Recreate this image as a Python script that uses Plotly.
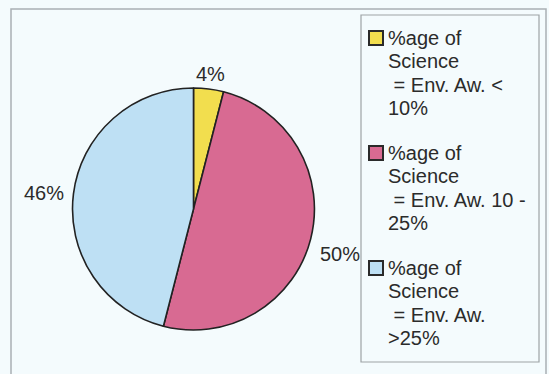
import math
import plotly.graph_objects as go

# Share of science pupils by environmental-awareness band
categories = [
    "%age of<br>Science<br>\u00a0= Env. Aw. <<br>10%",
    "%age of<br>Science<br>\u00a0= Env. Aw. 10 -<br>25%",
    "%age of<br>Science<br>\u00a0= Env. Aw.<br>>25%",
]
values = [4, 50, 46]
colors = ["#F2DE4E", "#D86A92", "#BEE0F4"]

W, H = 549, 374
BG = "#F4FBFD"
TXT = "#2B2B2B"
FONT = "Liberation Sans, Arial, sans-serif"
FS = 20

# pie placement (pixels)
cx, cy, r = 193.5, 209, 121

fig = go.Figure(go.Pie(
    labels=categories,
    values=values,
    sort=False,
    direction="clockwise",
    rotation=0,
    marker=dict(colors=colors, line=dict(color="#222222", width=1.6)),
    textinfo="none",
    hoverinfo="label+percent",
    showlegend=False,
    domain=dict(x=[(cx - r) / W, (cx + r) / W], y=[1 - (cy + r) / H, 1 - (cy - r) / H]),
))

# percentage labels just outside each slice, at the slice mid-angle
total = sum(values)
cum = 0
annotations = []
for v in values:
    mid = (cum + v / 2) / total * 2 * math.pi
    cum += v
    dx, dy = math.sin(mid), math.cos(mid)
    if abs(dx) < 0.3:
        xa, rr = "center", r + 15
    elif dx > 0:
        xa, rr = "left", r + 8
    else:
        xa, rr = "right", r + 8
    ya = "top" if dy < -0.2 else "middle"
    px, py = cx + rr * dx, cy - rr * dy
    annotations.append(dict(
        x=px / W, y=1 - py / H, xref="paper", yref="paper",
        text=f"{v}%", showarrow=False, xanchor=xa, yanchor=ya,
        font=dict(size=FS, color=TXT, family=FONT),
    ))

shapes = [
    # outer chart frame
    dict(type="rect", xref="paper", yref="paper",
         x0=11 / W, x1=546 / W, y0=-0.05, y1=1 - 9 / H,
         line=dict(color="#A9B0B4", width=1.5), fillcolor="rgba(0,0,0,0)", layer="below"),
    # legend box
    dict(type="rect", xref="paper", yref="paper",
         x0=361 / W, x1=539 / W, y0=1 - 362 / H, y1=1 - 15 / H,
         line=dict(color="#9DA3A6", width=1.2), fillcolor="rgba(0,0,0,0)"),
]

# legend entries: swatch + wrapped label, one line at a time
swatch_centers = [38, 153, 268]
line_step = 23.3
for label, col, yc in zip(categories, colors, swatch_centers):
    shapes.append(dict(
        type="rect", xref="paper", yref="paper",
        x0=369 / W, x1=383 / W, y0=1 - (yc + 7) / H, y1=1 - (yc - 7) / H,
        line=dict(color="#2A2A2A", width=2), fillcolor=col,
    ))
    for i, part in enumerate(label.split("<br>")):
        annotations.append(dict(
            x=386 / W, y=1 - (yc + i * line_step) / H, xref="paper", yref="paper",
            text=part, showarrow=False, xanchor="left", yanchor="middle", align="left",
            font=dict(size=FS, color=TXT, family=FONT),
        ))

fig.update_layout(
    width=W, height=H,
    margin=dict(l=0, r=0, t=0, b=0),
    paper_bgcolor=BG,
    plot_bgcolor=BG,
    shapes=shapes,
    annotations=annotations,
    font=dict(family=FONT, color=TXT),
)

fig.write_html("out.html")
